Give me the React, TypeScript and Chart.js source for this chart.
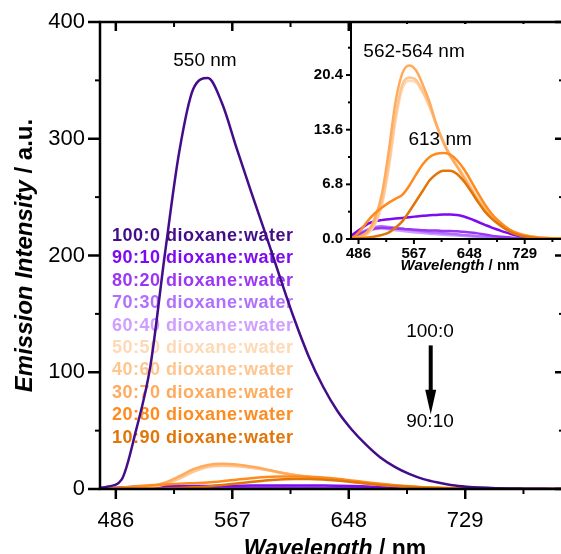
import { useEffect, useRef } from "react";
import { Chart, registerables } from "chart.js";

Chart.register(...registerables);

const FONT = "'Liberation Sans', Arial, Helvetica, sans-serif";

// Shared wavelength grid (nm)
const wavelengths = [475, 480, 490, 500, 510, 520, 530, 540, 550, 560, 570, 580, 590, 600, 610, 620, 630, 640, 650, 660, 670, 680, 690, 700, 710, 720, 730, 740, 750, 760, 770, 780, 790, 800];

// Emission intensities (a.u.) per dioxane:water ratio
const s100_0 = [1, 2, 8, 50, 105, 200, 288, 343, 352, 330, 292, 255, 219, 182, 146, 114, 88, 67, 51, 38, 27, 19, 13, 8.5, 5.5, 3.3, 2, 1.2, 0.7, 0.4, 0.3, 0.2, 0.1, 0.1];
const s90_10 = [0.4, 0.7, 1.3, 1.9, 2.2, 2.35, 2.45, 2.55, 2.6, 2.7, 2.8, 2.9, 2.95, 3.0, 3.05, 3.05, 3.0, 2.8, 2.5, 2.15, 1.8, 1.45, 1.15, 0.85, 0.6, 0.4, 0.28, 0.2, 0.14, 0.1, 0.08, 0.06, 0.05, 0.04];
const s80_20 = [0.2, 0.35, 0.7, 1.05, 1.3, 1.4, 1.35, 1.3, 1.25, 1.2, 1.15, 1.1, 1.05, 1.05, 1.0, 1.0, 0.95, 0.9, 0.8, 0.7, 0.55, 0.42, 0.32, 0.24, 0.17, 0.12, 0.08, 0.06, 0.05, 0.04, 0.03, 0.03, 0.02, 0.02];
const s70_30 = [0.2, 0.4, 0.8, 1.2, 1.5, 1.6, 1.5, 1.4, 1.3, 1.15, 1.05, 0.95, 0.85, 0.8, 0.72, 0.65, 0.58, 0.5, 0.43, 0.35, 0.28, 0.21, 0.15, 0.11, 0.08, 0.06, 0.04, 0.03, 0.02, 0.02, 0.01, 0.01, 0.01, 0.01];
const s60_40 = [0.15, 0.3, 0.65, 1.0, 1.25, 1.3, 1.2, 1.1, 1.0, 0.9, 0.82, 0.74, 0.66, 0.6, 0.54, 0.48, 0.42, 0.37, 0.31, 0.25, 0.2, 0.15, 0.11, 0.08, 0.06, 0.04, 0.03, 0.02, 0.02, 0.01, 0.01, 0.01, 0.01, 0.01];
const s50_50 = [0.05, 0.1, 0.3, 0.7, 1.8, 4.1, 8.6, 14.6, 18.7, 19.7, 19.5, 18.2, 16.4, 14.2, 12.2, 10.5, 9.2, 7.9, 6.5, 5.1, 4.0, 3.0, 2.2, 1.5, 1.0, 0.7, 0.5, 0.3, 0.2, 0.15, 0.1, 0.1, 0.05, 0.05];
const s40_60 = [0.05, 0.1, 0.3, 0.8, 2.0, 4.5, 9.2, 15.2, 19.2, 20.1, 19.8, 18.4, 16.5, 14.2, 12.1, 10.4, 9.1, 7.8, 6.4, 5.0, 3.9, 2.9, 2.1, 1.4, 1.0, 0.7, 0.45, 0.3, 0.2, 0.15, 0.1, 0.1, 0.05, 0.05];
const s30_70 = [0.05, 0.1, 0.4, 1.0, 2.6, 5.5, 10.8, 17.0, 20.6, 21.6, 21.0, 19.2, 17.0, 14.2, 12.0, 10.3, 9.0, 7.6, 6.2, 4.8, 3.7, 2.7, 1.9, 1.3, 0.9, 0.6, 0.4, 0.3, 0.2, 0.15, 0.1, 0.1, 0.05, 0.05];
const s20_80 = [0.1, 0.3, 1.2, 2.3, 3.2, 3.9, 4.5, 5.0, 5.5, 6.6, 8.0, 9.3, 10.2, 10.6, 10.7, 10.5, 9.8, 8.7, 7.3, 5.8, 4.4, 3.2, 2.3, 1.6, 1.0, 0.65, 0.4, 0.25, 0.15, 0.1, 0.08, 0.05, 0.03, 0.02];
const s10_90 = [0.02, 0.05, 0.1, 0.18, 0.3, 0.5, 0.8, 1.4, 2.2, 3.4, 4.7, 6.0, 7.3, 8.1, 8.5, 8.5, 8.1, 7.2, 6.0, 4.7, 3.5, 2.6, 1.9, 1.3, 0.8, 0.5, 0.3, 0.2, 0.1, 0.07, 0.05, 0.03, 0.02, 0.01];

const seriesValues = [s100_0, s90_10, s80_20, s70_30, s60_40, s50_50, s40_60, s30_70, s20_80, s10_90];
const seriesLabels = [
  "100:0 dioxane:water",
  "90:10 dioxane:water",
  "80:20 dioxane:water",
  "70:30 dioxane:water",
  "60:40 dioxane:water",
  "50:50 dioxane:water",
  "40:60 dioxane:water",
  "30:70 dioxane:water",
  "20:80 dioxane:water",
  "10:90 dioxane:water",
];
const seriesColors = ["#430d8a", "#7d0af0", "#9a37f5", "#b070ff", "#cf9eff", "#ffd8b5", "#ffc58f", "#ffab5e", "#ff8b1f", "#e27508"];
// draw order (lower = on top)
const seriesOrder = [0, 6, 7, 8, 9, 5, 4, 3, 2, 1];

// Tick labels
const mainXTicks = [486, 567, 648, 729];
const mainYTicks = [0, 100, 200, 300, 400];
const insetXTicks = [486, 567, 648, 729];
const insetYTicks = [0, 6.8, 13.6, 20.4];

function makeDatasets(indices: number[], width: number) {
  return indices.map((i) => ({
    label: seriesLabels[i],
    data: wavelengths.map((w, k) => ({ x: w, y: seriesValues[i][k] })),
    borderColor: seriesColors[i],
    backgroundColor: seriesColors[i],
    borderWidth: width,
    pointRadius: 0,
    fill: false,
    cubicInterpolationMode: "monotone" as const,
    order: seriesOrder[i],
  }));
}

function drawMixed(ctx: CanvasRenderingContext2D, parts: { t: string; f: string }[], cx: number, baseline: number) {
  let total = 0;
  const widths = parts.map((p) => {
    ctx.font = p.f;
    const w = ctx.measureText(p.t).width;
    total += w;
    return w;
  });
  let x = cx - total / 2;
  ctx.textAlign = "left";
  ctx.textBaseline = "alphabetic";
  parts.forEach((p, i) => {
    ctx.font = p.f;
    ctx.fillText(p.t, x, baseline);
    x += widths[i];
  });
}

function line(ctx: CanvasRenderingContext2D, x1: number, y1: number, x2: number, y2: number) {
  ctx.beginPath();
  ctx.moveTo(x1, y1);
  ctx.lineTo(x2, y2);
  ctx.stroke();
}

function minorsOf(major: number[], min: number, max: number) {
  const step = major[1] - major[0];
  const out: number[] = [];
  major.forEach((v) => {
    [v - step / 2, v + step / 2].forEach((m) => {
      if (m > min && m < max && !out.some((o) => Math.abs(o - m) < 1e-6)) out.push(m);
    });
  });
  return out;
}

const mainDecor = {
  id: "mainDecor",
  beforeDatasetsDraw(chart: any) {
    const ctx: CanvasRenderingContext2D = chart.ctx;
    const a = chart.chartArea;
    ctx.save();
    ctx.font = `bold 18px ${FONT}`;
    (ctx as any).letterSpacing = "0.5px";
    ctx.textAlign = "left";
    ctx.textBaseline = "middle";
    seriesLabels.forEach((l, i) => {
      ctx.fillStyle = seriesColors[i];
      ctx.fillText(l, a.left + 12, a.top + 214 + i * 22.4);
    });
    ctx.restore();
  },
  afterDraw(chart: any) {
    const ctx: CanvasRenderingContext2D = chart.ctx;
    const a = chart.chartArea;
    const xs = chart.scales.x;
    const ys = chart.scales.y;
    ctx.save();
    ctx.strokeStyle = "#000";
    ctx.fillStyle = "#000";
    ctx.lineWidth = 2.5;
    // frame
    line(ctx, a.left - 1.25, a.top, a.right + 1.25, a.top);
    line(ctx, a.left - 1.25, a.bottom, a.right + 1.25, a.bottom);
    line(ctx, a.left, a.top, a.left, a.bottom);
    line(ctx, a.right, a.top, a.right, a.bottom);
    // x ticks
    const xMajor = xs.ticks.map((t: any) => t.value);
    xMajor.forEach((v: number) => {
      const p = xs.getPixelForValue(v);
      ctx.lineWidth = 2.5;
      line(ctx, p, a.bottom, p, a.bottom + 10);
      line(ctx, p, a.top, p, a.top + 9);
    });
    minorsOf(xMajor, xs.min, xs.max).forEach((v) => {
      const p = xs.getPixelForValue(v);
      ctx.lineWidth = 2;
      line(ctx, p, a.bottom, p, a.bottom + 5);
      line(ctx, p, a.top, p, a.top + 5);
    });
    // y ticks
    const yMajor = ys.ticks.map((t: any) => t.value);
    yMajor.forEach((v: number) => {
      const p = ys.getPixelForValue(v);
      ctx.lineWidth = 2.5;
      line(ctx, a.left - 12, p, a.left, p);
      line(ctx, a.right - 8, p, a.right, p);
    });
    minorsOf(yMajor, ys.min, ys.max).forEach((v) => {
      const p = ys.getPixelForValue(v);
      ctx.lineWidth = 2;
      line(ctx, a.left - 5, p, a.left, p);
      line(ctx, a.right - 4, p, a.right, p);
    });
    // axis titles
    ctx.fillStyle = "#000";
    drawMixed(
      ctx,
      [
        { t: "Wavelength", f: `italic bold 23px ${FONT}` },
        { t: " / nm", f: `bold 23px ${FONT}` },
      ],
      335,
      556
    );
    ctx.save();
    ctx.translate(32, (a.top + a.bottom) / 2);
    ctx.rotate(-Math.PI / 2);
    drawMixed(
      ctx,
      [
        { t: "Emission Intensity", f: `italic bold 24px ${FONT}` },
        { t: " / a.u.", f: `bold 24px ${FONT}` },
      ],
      0,
      0
    );
    ctx.restore();
    // annotations
    ctx.font = `19px ${FONT}`;
    ctx.textAlign = "center";
    ctx.textBaseline = "middle";
    ctx.fillText("550 nm", xs.getPixelForValue(548), ys.getPixelForValue(367));
    ctx.fillText("100:0", xs.getPixelForValue(704.5), ys.getPixelForValue(135));
    ctx.fillText("90:10", xs.getPixelForValue(704.5), ys.getPixelForValue(57.4));
    // arrow
    const ax = xs.getPixelForValue(705);
    const aTop = ys.getPixelForValue(123);
    const aHead = ys.getPixelForValue(85);
    const aTip = ys.getPixelForValue(64);
    ctx.lineWidth = 4;
    line(ctx, ax, aTop, ax, aHead + 2);
    ctx.beginPath();
    ctx.moveTo(ax - 5.5, aHead);
    ctx.lineTo(ax + 5.5, aHead);
    ctx.lineTo(ax, aTip);
    ctx.closePath();
    ctx.fill();
    ctx.restore();
  },
};

const insetDecor = {
  id: "insetDecor",
  beforeDraw(chart: any) {
    const ctx: CanvasRenderingContext2D = chart.ctx;
    const a = chart.chartArea;
    ctx.save();
    ctx.fillStyle = "#fff";
    ctx.fillRect(a.left, a.top + 2, a.right - a.left - 8, a.bottom - a.top - 2);
    ctx.restore();
  },
  afterDraw(chart: any) {
    const ctx: CanvasRenderingContext2D = chart.ctx;
    const a = chart.chartArea;
    const xs = chart.scales.x;
    const ys = chart.scales.y;
    ctx.save();
    ctx.strokeStyle = "#000";
    ctx.fillStyle = "#000";
    ctx.lineWidth = 2;
    line(ctx, a.left, a.top, a.left, a.bottom + 1);
    line(ctx, a.left - 1, a.bottom, a.right, a.bottom);
    const xMajor = xs.ticks.map((t: any) => t.value);
    xMajor.forEach((v: number) => {
      const p = xs.getPixelForValue(v);
      line(ctx, p, a.bottom, p, a.bottom + 5);
    });
    minorsOf(xMajor, xs.min, xs.max).forEach((v) => {
      const p = xs.getPixelForValue(v);
      line(ctx, p, a.bottom, p, a.bottom + 3);
    });
    const yMajor = ys.ticks.map((t: any) => t.value);
    yMajor.forEach((v: number) => {
      const p = ys.getPixelForValue(v);
      line(ctx, a.left - 5, p, a.left, p);
    });
    minorsOf(yMajor, ys.min, ys.max).forEach((v) => {
      const p = ys.getPixelForValue(v);
      line(ctx, a.left - 3, p, a.left, p);
    });
    drawMixed(
      ctx,
      [
        { t: "Wavelength", f: `italic bold 15px ${FONT}` },
        { t: " / nm", f: `bold 15px ${FONT}` },
      ],
      170,
      270
    );
    ctx.font = `19px ${FONT}`;
    ctx.textAlign = "center";
    ctx.textBaseline = "middle";
    ctx.fillText("562-564 nm", xs.getPixelForValue(567.2), ys.getPixelForValue(23.3));
    ctx.fillText("613 nm", xs.getPixelForValue(605.3), ys.getPixelForValue(12.3));
    ctx.restore();
  },
};

function fixedTicks(values: number[]) {
  return (s: any) => {
    s.ticks = values.map((v) => ({ value: v }));
  };
}

function fitX(h: number) {
  return (s: any) => {
    s.height = h;
    s.paddingLeft = 0;
    s.paddingRight = 0;
  };
}

function fitY(w: number) {
  return (s: any) => {
    s.width = w;
    s.paddingTop = 0;
    s.paddingBottom = 0;
  };
}

export default function App() {
  const mainRef = useRef<HTMLCanvasElement>(null);
  const insetRef = useRef<HTMLCanvasElement>(null);

  useEffect(() => {
    const main = new Chart(mainRef.current as HTMLCanvasElement, {
      type: "line",
      data: { datasets: makeDatasets([0, 1, 2, 3, 4, 5, 6, 7, 8, 9], 2.5) as any },
      options: {
        responsive: false,
        animation: false,
        devicePixelRatio: 1,
        layout: { padding: { left: 0, top: 22, right: 7, bottom: 0 } },
        plugins: { legend: { display: false }, tooltip: { enabled: false } },
        scales: {
          x: {
            type: "linear",
            min: 475,
            max: 797,
            afterBuildTicks: fixedTicks(mainXTicks),
            grid: { display: false, drawTicks: false },
            border: { display: false },
            ticks: {
              autoSkip: false,
              maxRotation: 0,
              padding: 19,
              color: "#000",
              font: { family: FONT, size: 22 },
            },
            afterFit: fitX(65),
          },
          y: {
            type: "linear",
            min: 0,
            max: 400,
            afterBuildTicks: fixedTicks(mainYTicks),
            grid: { display: false, drawTicks: false },
            border: { display: false },
            ticks: {
              autoSkip: false,
              padding: 15,
              color: "#000",
              font: { family: FONT, size: 22 },
            },
            afterFit: fitY(100),
          },
        },
      },
      plugins: [mainDecor],
    } as any);

    const inset = new Chart(insetRef.current as HTMLCanvasElement, {
      type: "line",
      data: { datasets: makeDatasets([1, 2, 3, 4, 5, 6, 7, 8, 9], 2.5) as any },
      options: {
        responsive: false,
        animation: false,
        devicePixelRatio: 1,
        layout: { padding: { left: 0, top: 22, right: 7, bottom: 0 } },
        plugins: { legend: { display: false }, tooltip: { enabled: false } },
        scales: {
          x: {
            type: "linear",
            min: 475,
            max: 785,
            afterBuildTicks: fixedTicks(insetXTicks),
            grid: { display: false, drawTicks: false },
            border: { display: false },
            ticks: {
              autoSkip: false,
              maxRotation: 0,
              padding: 6,
              color: "#000",
              font: { family: FONT, size: 15, weight: "bold" },
            },
            afterFit: fitX(41),
          },
          y: {
            type: "linear",
            min: 0,
            max: 27,
            afterBuildTicks: fixedTicks(insetYTicks),
            grid: { display: false, drawTicks: false },
            border: { display: false },
            ticks: {
              autoSkip: false,
              padding: 8,
              color: "#000",
              font: { family: FONT, size: 15, weight: "bold" },
              callback: (v: any) => Number(v).toFixed(1),
            },
            afterFit: fitY(61),
          },
        },
      },
      plugins: [insetDecor],
    } as any);

    return () => {
      main.destroy();
      inset.destroy();
    };
  }, []);

  return (
    <div
      style={{
        position: "fixed",
        left: 0,
        top: 0,
        width: 561,
        height: 554,
        overflow: "hidden",
        background: "#fff",
      }}
    >
      <canvas ref={mainRef} width={570} height={554} style={{ position: "absolute", left: 0, top: 0 }} />
      <canvas ref={insetRef} width={280} height={280} style={{ position: "absolute", left: 290, top: 0 }} />
    </div>
  );
}
